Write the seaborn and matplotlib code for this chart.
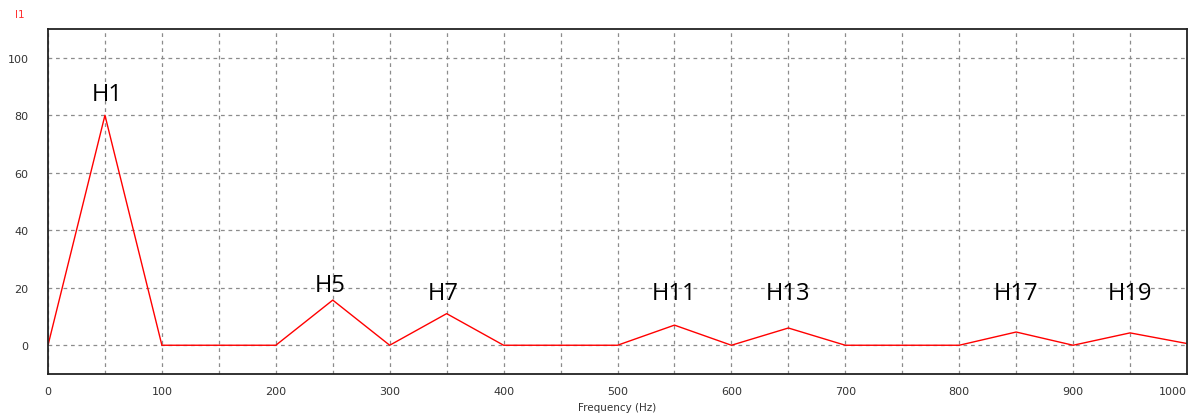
import matplotlib
matplotlib.use("Agg")
import matplotlib.pyplot as plt
import seaborn as sns
import pandas as pd
import numpy as np

freq = [0, 50, 100, 150, 200, 250, 300, 350, 400, 450, 500, 550, 600, 650, 700, 750, 800, 850, 900, 950, 1000]
amp = [0, 80, 0, 0, 0, 15.7, 0, 11.0, 0, 0, 0, 7.0, 0, 6.0, 0, 0, 0, 4.6, 0, 4.3, 0.6]
harm_labels = ["H1", "H5", "H7", "H11", "H13", "H17", "H19"]
harm_x = [52, 248, 347, 550, 650, 850, 950]
harm_y = [87.5, 21, 18, 18, 18, 18, 18]
x_ticks = [0, 100, 200, 300, 400, 500, 600, 700, 800, 900, 1000]
y_ticks = [0, 20, 40, 60, 80, 100]

sns.set_style("white")
plt.rcParams['font.family'] = ['DejaVu Sans']

df = pd.DataFrame({"f": freq, "a": amp})
fig = plt.figure(figsize=(11.9, 4.14), dpi=100)
ax = fig.add_axes([48/1190, 39/414, (1187-48)/1190, (375-30)/414])
sns.lineplot(data=df, x="f", y="a", ax=ax, color="#ff0000", linewidth=1.0, estimator=None)

ax.set_xlim(0, 1000)
ax.set_ylim(-10, 110)
ax.set_xticks(x_ticks)
ax.set_xticks(np.arange(50, 1000, 100), minor=True)
ax.set_yticks(y_ticks)
ax.set_xticklabels([str(t) for t in x_ticks], fontsize=8, color="#333333")
ax.set_yticklabels([str(t) for t in y_ticks], fontsize=8, color="#333333")
lbls = ax.get_xticklabels()
lbls[-1].set_ha("right")
ax.tick_params(axis="both", which="both", length=0)
ax.tick_params(axis="x", pad=9)
ax.tick_params(axis="y", pad=14)
ax.grid(True, which="both", linestyle=(0, (3, 3)), color="#8c8c8c", linewidth=0.9)
for s in ax.spines.values():
    s.set_color("#222222")
    s.set_linewidth(1.3)
ax.set_xlabel("Frequency (Hz)", fontsize=7.5, color="#333333", labelpad=4)
ax.set_ylabel("")

for t, x, y in zip(harm_labels, harm_x, harm_y):
    ax.text(x, y, t, fontsize=17, family=["Open Sans", "DejaVu Sans"], ha="center", va="center", color="black")

fig.text(15/1190, 1 - 15/414, "I1", color="#ff3030", fontsize=7.5, va="center", ha="left")

fig.savefig("out.png", dpi=100)
